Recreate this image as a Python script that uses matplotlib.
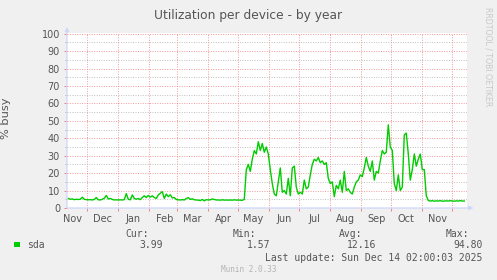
import matplotlib
matplotlib.use("Agg")
import matplotlib.pyplot as plt
import matplotlib.dates as mdates
from matplotlib.patches import Rectangle
from matplotlib.ticker import MultipleLocator, NullFormatter
import pandas as pd

W, H = 497, 280

# % busy for sda, one reading every 2 days starting 2024-11-12
busy = [
    5.5, 5.0, 5.2, 4.8, 5.0, 4.9, 5.0, 6.2, 5.0, 4.8,
    4.7, 4.8, 4.6, 4.9, 6.0, 4.7, 4.6, 5.0, 5.6, 7.2,
    5.2, 5.5, 4.9, 4.6, 4.7, 4.6, 4.7, 4.6, 4.8, 8.2,
    5.0, 4.7, 7.5, 5.5, 5.0, 5.5, 4.8, 6.0, 7.0, 6.0,
    7.2, 6.2, 7.0, 6.0, 5.5, 7.5, 8.4, 9.4, 5.5, 8.0,
    6.5, 7.6, 5.8, 6.0, 4.9, 4.7, 4.6, 4.8, 4.6, 5.4,
    6.0, 4.9, 5.3, 4.7, 4.6, 4.5, 4.3, 4.9, 4.1, 4.8,
    4.6, 4.7, 5.2, 4.9, 4.6, 4.6, 4.5, 4.7, 4.5, 4.6,
    4.5, 4.6, 4.5, 4.7, 4.5, 4.6, 4.5, 4.4, 5.0, 22.0,
    25.0, 21.0, 28.0, 33.0, 31.0, 38.0, 33.0, 37.0, 32.0, 35.0,
    31.0, 22.0, 14.0, 8.0, 7.0, 15.0, 23.0, 9.0, 10.0, 8.0,
    17.0, 7.0, 23.0, 24.0, 12.0, 8.0, 9.0, 8.0, 16.0, 11.0,
    12.0, 19.0, 25.0, 28.0, 27.0, 29.0, 26.0, 27.0, 25.0, 26.0,
    17.0, 14.0, 15.0, 6.5, 13.0, 11.0, 16.0, 9.0, 21.0, 10.0,
    11.0, 9.0, 8.0, 12.0, 15.0, 16.0, 19.0, 18.0, 23.0, 29.0,
    24.0, 21.0, 27.0, 16.0, 21.0, 20.0, 27.0, 33.0, 31.0, 32.0,
    47.7, 35.0, 33.0, 14.0, 10.0, 19.0, 10.0, 12.0, 42.0, 43.0,
    31.0, 16.0, 22.0, 31.0, 24.0, 28.0, 31.0, 22.0, 22.0, 7.0,
    4.3, 4.0, 4.2, 3.9, 4.1, 4.0, 4.2, 3.9, 4.0, 4.1,
    4.0, 4.2, 4.0, 3.9, 4.1, 4.0, 4.2, 4.0, 3.99,
]
dates = pd.date_range("2024-11-12", periods=len(busy), freq="2D")

title = "Utilization per device - by year"
series_name = "sda"
stat_names = ["Cur:", "Min:", "Avg:", "Max:"]
stat_values = ["3.99", "1.57", "12.16", "94.80"]
last_update = "Last update: Sun Dec 14 02:00:03 2025"

BG = "#F0F0F0"
FONT = "#555555"
AXIS = "#CFD6F8"
GREEN = "#00CC00"


def fx(x):
    return x / W


def fy(y):
    return 1 - y / H


fig = plt.figure(figsize=(W / 100, H / 100), dpi=100, facecolor=BG)
ax = fig.add_axes([fx(67), fy(208), 400 / W, 175 / H])
ax.set_facecolor("white")

ax.plot(dates, busy, color=GREEN, lw=1.0, zorder=3)

ax.set_xlim(pd.Timestamp("2024-11-10 17:00"), pd.Timestamp("2025-12-15 17:00"))
ax.set_ylim(0, 100.4)

# month labels sit mid-month, grid lines at month starts
ax.xaxis.set_major_locator(mdates.MonthLocator(bymonthday=16))
ax.xaxis.set_major_formatter(mdates.DateFormatter("%b"))
ax.xaxis.set_minor_locator(mdates.MonthLocator(bymonthday=1))
ax.yaxis.set_major_locator(MultipleLocator(10))
ax.yaxis.set_minor_locator(MultipleLocator(5))
ax.yaxis.set_minor_formatter(NullFormatter())

dots = (0, (1, 1.5))
ax.xaxis.grid(True, which="minor", color="#F08080", lw=0.7, linestyle=dots, alpha=0.8)
ax.yaxis.grid(True, which="major", color="#F08080", lw=0.7, linestyle=dots, alpha=0.8)
ax.yaxis.grid(True, which="minor", color="#B0B0B0", lw=0.7, linestyle=dots, alpha=0.8)
ax.set_axisbelow(True)

ax.tick_params(axis="x", which="major", length=0, pad=4, labelsize=7, labelcolor=FONT)
ax.tick_params(axis="x", which="minor", length=2, color="#F08080", width=0.7)
ax.tick_params(axis="y", which="major", length=2, color="#F08080", width=0.7,
               pad=3, labelsize=7, labelcolor=FONT)
ax.tick_params(axis="y", which="minor", length=1.5, color="#B0B0B0", width=0.7)

for s in ax.spines.values():
    s.set_visible(False)

# axis lines with arrows
arrow = dict(arrowstyle="-|>", color=AXIS, lw=0.9, mutation_scale=6, shrinkA=0, shrinkB=0)
ax.annotate("", xy=(0, 1.034), xytext=(0, 0), xycoords="axes fraction", arrowprops=arrow)
ax.annotate("", xy=(1.016, 0), xytext=(0, 0), xycoords="axes fraction", arrowprops=arrow)

ax.set_ylabel("% busy", fontsize=8.2, color=FONT)
ax.yaxis.set_label_coords(-(67 - 11) / 400, (208 - 118) / 175)

fig.text(fx(248.5), fy(18.5), title, ha="center", va="baseline", fontsize=8.8, color=FONT)
fig.text(fx(488.3), fy(57), "RRDTOOL / TOBI OETIKER", ha="center", va="center",
         rotation=270, fontsize=5.6, color="#C8C8C8")

mono = "DejaVu Sans Mono"
name_right = [149.3, 256, 362, 469.3]
value_right = [163.3, 270, 376, 482.7]
for name, xr in zip(stat_names, name_right):
    fig.text(fx(xr), fy(236.7), name, ha="right", va="baseline", family=mono, fontsize=7, color=FONT)
for val, xr in zip(stat_values, value_right):
    fig.text(fx(xr), fy(248.3), val, ha="right", va="baseline", family=mono, fontsize=7, color=FONT)

fig.patches.append(Rectangle((fx(14), fy(247)), 6 / W, 5 / H, transform=fig.transFigure,
                             facecolor=GREEN, edgecolor="none"))
fig.text(fx(26.7), fy(248.3), series_name, ha="left", va="baseline", family=mono, fontsize=7, color=FONT)
fig.text(fx(482.7), fy(261), last_update, ha="right", va="baseline", family=mono, fontsize=7, color=FONT)
fig.text(fx(249), fy(272), "Munin 2.0.33", ha="center", va="baseline", family=mono,
         fontsize=5.5, color="#B4B4B4")

fig.savefig("out.png", dpi=100, facecolor=BG)
